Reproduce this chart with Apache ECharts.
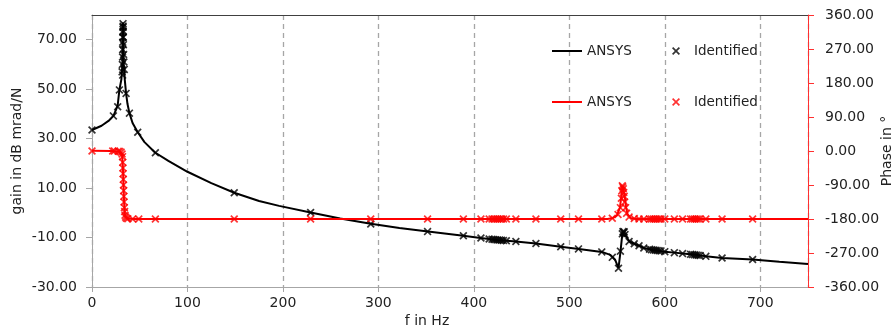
<!DOCTYPE html>
<html>
<head>
<meta charset="utf-8">
<script src="https://cdn.jsdelivr.net/npm/echarts@6/dist/echarts.min.js"></script>
<style>
  html, body { margin: 0; padding: 0; background: #fff; }
  #chart { width: 894px; height: 332px; }
</style>
</head>
<body>
<div id="chart"></div>
<script>
  // frequency ticks (Hz)
  const freqTicks = [0, 100, 200, 300, 400, 500, 600, 700]

  // ANSYS gain curve [f, dB]
  const ansysGain = [
    [0, 33.5], [10, 35.2], [18, 37.4], [22.4, 39.2], [25, 41.5], [26.9, 43.5], [28.7, 49.7],
    [30.8, 54], [31.8, 60], [32.2, 67], [32.5, 77], [32.8, 67], [33.3, 60], [34.3, 54],
    [35.7, 48.3], [37.2, 44], [39.2, 40.3], [42.5, 36.3], [47.9, 32.6], [55, 28.6],
    [66, 24.4], [80, 21], [100, 16.6], [125, 12], [149, 8.1], [175, 4.8], [196, 2.8],
    [229, 0.1], [260, -2.3], [292, -4.4], [322, -6.1], [352, -7.6], [389, -9.3],
    [407, -10.2], [425, -11], [444, -11.6], [465, -12.4], [491, -13.7], [510, -14.6],
    [534, -15.8], [543, -17], [548, -19], [551.5, -22.4], [553.5, -16], [555.5, -8.5],
    [557.5, -7.8], [560, -9.8], [563, -11.6], [568, -12.5], [573, -13.3], [578, -14.2],
    [587, -15], [600, -15.7], [610, -16.1], [619, -16.5], [632, -17], [643, -17.6],
    [660, -18.3], [692, -18.9], [720, -19.8], [750, -20.7]
  ]

  // ANSYS phase curve [f, deg]
  const ansysPhase = [
    [0, 0.5], [20, 0], [27, -1], [30, -3], [31.5, -10], [32.3, -40], [33, -90],
    [33.7, -140], [34.5, -168], [36, -177], [39, -179.5], [45, -180], [540, -180],
    [546, -177], [550, -170], [553, -150], [554.5, -120], [555.7, -91], [556.8, -95],
    [558, -120], [559.5, -150], [561, -168], [564, -177], [570, -180], [750, -180]
  ]

  // identified gain points [f, dB]
  const identGain = [
    [0, 33.5], [22.4, 39.2], [26.9, 42.9], [28.7, 49.7], [31.5, 57], [31.8, 60],
    [32, 63], [32.1, 66], [32.2, 69], [32.3, 71], [32.4, 73], [32.5, 75], [32.5, 76.5],
    [32.6, 75.5], [32.7, 73.5], [32.8, 71], [32.9, 68], [33.1, 64], [33.4, 61],
    [33.8, 58], [32.1, 55.7], [35.7, 48.3], [39.2, 40.3], [47.9, 32.6], [66.4, 24.3],
    [149, 8.1], [229, 0.1], [292, -4.5], [351.5, -7.6], [389, -9.3], [407.4, -10.2],
    [416, -10.6], [419, -10.7], [421, -10.8], [423, -10.9], [425, -11], [427, -11],
    [429, -11.1], [431, -11.2], [434, -11.3], [444, -11.6], [465, -12.4], [491, -13.7],
    [509.6, -14.6], [534, -15.8], [545, -18], [551.5, -22.4], [553.5, -15.5],
    [555.5, -8.5], [556.2, -7.6], [556.8, -8], [557.5, -7.7], [558.3, -8.8],
    [562.6, -11.6], [568, -12.5], [573, -13.3], [578, -14.2], [584, -14.7], [586, -14.9],
    [588, -15], [590, -15.1], [592, -15.2], [594, -15.3], [596, -15.4], [600, -15.7],
    [610, -16.1], [618.6, -16.5], [627, -16.8], [629, -16.9], [631, -17], [633, -17.1],
    [635, -17.2], [637, -17.3], [643, -17.6], [660, -18.3], [692, -18.9]
  ]

  // identified phase points [f, deg]
  const identPhase = [
    [0, 0], [21.7, 0], [23.5, 0], [27.5, -0.5], [29, -1.5], [30.5, -3], [31.5, -8],
    [32, -15], [32.2, -30], [32.4, -45], [32.6, -60], [32.8, -75], [33, -90],
    [33.2, -105], [33.4, -120], [33.6, -135], [33.9, -150], [34.2, -160], [34.6, -170],
    [35.2, -175], [36, -178], [37.5, -179.5], [42.6, -180], [49, -180], [66.4, -180],
    [149, -180], [229, -180], [292, -180], [351.5, -180], [389, -180], [407.4, -180],
    [416, -180], [419, -180], [421, -180], [423, -180], [425, -180], [427, -180],
    [429, -180], [431, -180], [434, -180], [444, -180], [465, -180], [491, -180],
    [509.6, -180], [534, -180], [545, -178], [551, -168], [553.5, -150], [554.5, -125],
    [555, -105], [555.5, -92], [556, -95], [556.5, -100], [557, -110], [557.5, -120],
    [558, -135], [559, -150], [560, -165], [562.6, -175], [568, -179], [573, -180],
    [578, -180], [584, -180], [586, -180], [588, -180], [590, -180], [592, -180],
    [594, -180], [596, -180], [600, -180], [610, -180], [618.6, -180], [627, -180],
    [629, -180], [631, -180], [633, -180], [635, -180], [637, -180], [643, -180],
    [660, -180], [692, -180]
  ]

  const cross = 'path://M0,1.5 L1.5,0 L5,3.5 L8.5,0 L10,1.5 L6.5,5 L10,8.5 L8.5,10 L5,6.5 L1.5,10 L0,8.5 L3.5,5 Z'
  const font = 'DejaVu Sans'
  const txt = '#222'

  const chart = echarts.init(document.getElementById('chart'))
  chart.setOption({
    animation: false,
    textStyle: { fontFamily: font },
    grid: { left: 92, right: 86, top: 15, bottom: 45, containLabel: false, outerBoundsMode: 'none' },
    legend: [{
      data: ['ANSYS gain', 'ANSYS phase'],
      orient: 'vertical',
      left: 547,
      top: 39,
      icon: 'rect',
      itemWidth: 30,
      itemHeight: 2,
      itemGap: 37,
      selectedMode: false,
      formatter: n => n.split(' ')[0],
      textStyle: { fontFamily: font, fontSize: 13.5, color: txt }
    }, {
      data: ['Identified gain', 'Identified phase'],
      orient: 'vertical',
      left: 667,
      top: 39,
      icon: cross,
      itemWidth: 8,
      itemHeight: 8,
      itemGap: 37,
      selectedMode: false,
      formatter: n => n.split(' ')[0],
      textStyle: { fontFamily: font, fontSize: 13.5, color: txt, padding: [0, 0, 0, 9] }
    }],
    xAxis: [{
      type: 'value',
      min: 0,
      max: 750,
      interval: 100,
      name: 'f in Hz',
      nameLocation: 'middle',
      nameGap: 27,
      nameMoveOverlap: false,
      nameTextStyle: { fontFamily: font, fontSize: 14, color: txt, padding: [0, 46, 0, 0] },
      axisLine: { onZero: false, lineStyle: { color: '#a6a6a6' } },
      axisTick: { show: true, length: 5, lineStyle: { color: '#a6a6a6' } },
      axisLabel: { showMaxLabel: false, fontSize: 14, color: txt, margin: 9 },
      splitLine: { show: true, lineStyle: { color: '#a6a6a6', type: [5, 4], width: 1.3 } }
    }, {
      type: 'value',
      position: 'top',
      min: 0,
      max: 750,
      axisLine: { show: true, onZero: false, lineStyle: { color: '#404040' } },
      axisTick: { show: false },
      axisLabel: { show: false },
      splitLine: { show: false }
    }],
    yAxis: [{
      type: 'value',
      min: -30,
      max: 80,
      interval: 20,
      name: 'gain in dB mrad/N',
      nameLocation: 'middle',
      nameGap: 68,
      nameMoveOverlap: false,
      nameTextStyle: { fontFamily: font, fontSize: 14, color: txt },
      axisLine: { show: true, onZero: false, lineStyle: { color: '#a6a6a6' } },
      axisTick: { show: true, length: 6, lineStyle: { color: '#a6a6a6' } },
      axisLabel: { showMaxLabel: false, fontSize: 14, color: txt, margin: 15, formatter: v => v.toFixed(2) },
      splitLine: { show: false }
    }, {
      type: 'value',
      position: 'right',
      min: -360,
      max: 360,
      interval: 90,
      name: 'Phase in °',
      nameLocation: 'middle',
      nameGap: 72,
      nameRotate: 90,
      nameMoveOverlap: false,
      nameTextStyle: { fontFamily: font, fontSize: 14, color: txt },
      axisLine: { show: true, onZero: false, lineStyle: { color: '#ff3030' } },
      axisTick: { show: true, length: 6, lineStyle: { color: '#ff3030' } },
      axisLabel: { fontSize: 14, color: txt, margin: 17, formatter: v => v.toFixed(2) },
      splitLine: { show: false }
    }],
    series: [{
      name: 'ANSYS gain',
      type: 'line',
      yAxisIndex: 0,
      data: ansysGain,
      showSymbol: false,
      color: '#000',
      lineStyle: { color: '#000', width: 2 }
    }, {
      name: 'ANSYS phase',
      type: 'line',
      yAxisIndex: 1,
      data: ansysPhase,
      showSymbol: false,
      color: '#ff0000',
      lineStyle: { color: '#ff0000', width: 2 }
    }, {
      name: 'Identified gain',
      type: 'scatter',
      yAxisIndex: 0,
      data: identGain,
      symbol: cross,
      symbolSize: 8,
      color: '#000',
      itemStyle: { color: '#000' }
    }, {
      name: 'Identified phase',
      type: 'scatter',
      yAxisIndex: 1,
      data: identPhase,
      symbol: cross,
      symbolSize: 8,
      color: '#ff0000',
      itemStyle: { color: '#ff0000' }
    }]
  })
</script>
</body>
</html>
